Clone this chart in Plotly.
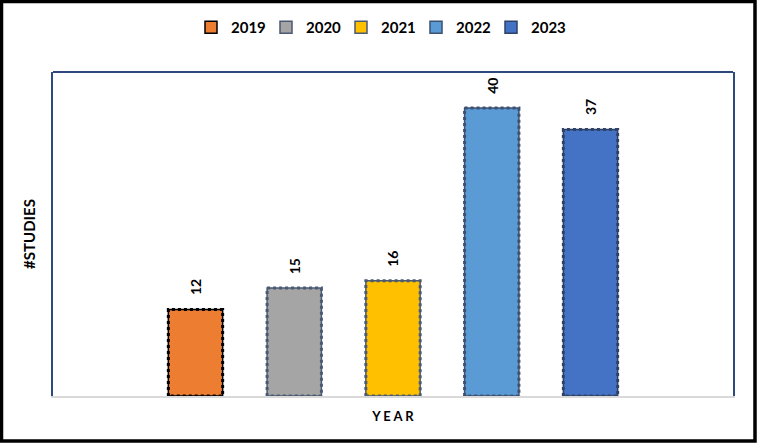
import plotly.graph_objects as go

years = ["2019", "2020", "2021", "2022", "2023"]
studies = [12, 15, 16, 40, 37]
fill_colors = ["#ED7D31", "#A5A5A5", "#FFC000", "#5B9BD5", "#4472C4"]
edge_colors = ["#000000", "#4A5A72", "#4A5A72", "#3C5070", "#2E4166"]

BAR_W = 0.55
fig = go.Figure()
for i, (yr, v, fc, ec) in enumerate(zip(years, studies, fill_colors, edge_colors)):
    fig.add_trace(go.Bar(
        x=[i], y=[v], name=yr, width=BAR_W,
        marker=dict(color=fc, line=dict(color=ec, width=1.5)),
        hoverinfo="skip",
    ))
for i, (yr, v, ec) in enumerate(zip(years, studies, edge_colors)):
    h = BAR_W / 2
    fig.add_trace(go.Scatter(
        x=[i - h, i - h, i + h, i + h, i - h], y=[0, v, v, 0, 0],
        mode="lines", line=dict(color=ec, width=3, dash="dot"),
        showlegend=False, hoverinfo="skip",
    ))
    fig.add_annotation(
        x=i, y=v, text=f"<b>{v}</b>", showarrow=False, textangle=-90,
        yanchor="bottom", yshift=12, font=dict(family="Lato", size=14, color="#000000"),
    )

fig.update_layout(
    width=757, height=443,
    margin=dict(l=53, r=24, t=72, b=47, autoexpand=False),
    paper_bgcolor="white", plot_bgcolor="white",
    barmode="overlay",
    showlegend=True,
    legend=dict(orientation="h", x=0.5, xanchor="center", xref="container",
                y=1 - 11 / 443, yref="container", yanchor="top",
                bgcolor="rgba(0,0,0,0)",
                font=dict(family="Lato", size=15, color="#000000", weight="bold"),
                itemwidth=30, traceorder="normal",
                entrywidth=30, entrywidthmode="pixels"),
    font=dict(family="Lato"),
    xaxis=dict(range=[-1.443, 5.443], showticklabels=False, showgrid=False, zeroline=False,
               showline=True, linecolor="#D9D9D9", linewidth=2, ticks="", automargin=False,
               title=dict(text="<b>Y E A R</b>", font=dict(family="Lato", size=13, color="#000000"),
                          standoff=15)),
    yaxis=dict(range=[0, 45], showticklabels=False, showgrid=False, zeroline=False,
               showline=True, mirror=True, linecolor="#2E4A7D", linewidth=2, ticks="",
               automargin=False,
               title=dict(text="<b>#STUDIES</b>", font=dict(family="Lato", size=15, color="#000000"),
                          standoff=12)),
    shapes=[
        dict(type="line", xref="paper", yref="paper", x0=0, x1=1, y0=1, y1=1,
             line=dict(color="#2E4A7D", width=2)),
        dict(type="rect", xref="paper", yref="paper",
             x0=(1.5 - 53) / 680, x1=(755 - 53) / 680,
             y0=-(441 - 396) / 324, y1=1 + (72 - 1.5) / 324,
             line=dict(color="#000000", width=3.5), fillcolor="rgba(0,0,0,0)", layer="above"),
    ],
)

fig.write_html("out.html", config={"displayModeBar": False},
               post_script="document.body.style.margin='0';")
